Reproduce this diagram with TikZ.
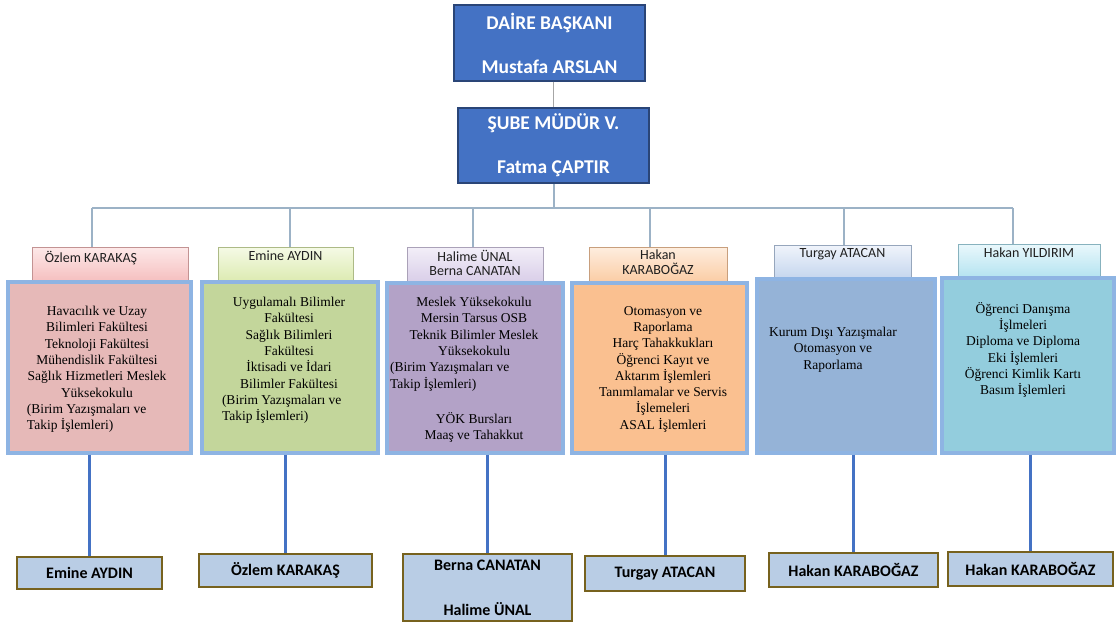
\documentclass[tikz,border=0pt]{standalone}
\usepackage{fontspec}
\setmainfont{Liberation Serif}
\newfontfamily\calibri{Carlito}
\usepackage{tikz}
\usetikzlibrary{positioning}

\definecolor{headblue}{HTML}{4472C4}
\definecolor{headedge}{HTML}{2A4577}
\definecolor{linkgray}{HTML}{A6A6A6}
\definecolor{linkbar}{HTML}{9CB2C6}
\definecolor{cardedge}{HTML}{8EB4E3}
\definecolor{nameedge}{HTML}{77621E}
\definecolor{namefill}{HTML}{B9CDE5}
% tab shades (top, bottom)
\definecolor{pinktop}{HTML}{FDE9E9}   \definecolor{pinkbot}{HTML}{F4B8B8}
\definecolor{greentop}{HTML}{F5FAE6}  \definecolor{greenbot}{HTML}{D8E8A8}
\definecolor{liltop}{HTML}{F3EFF8}    \definecolor{lilbot}{HTML}{D5C9E6}
\definecolor{peachtop}{HTML}{FEEEDF}  \definecolor{peachbot}{HTML}{FAC79C}
\definecolor{bluetop}{HTML}{F0F4FB}   \definecolor{bluebot}{HTML}{BCD0EB}
\definecolor{cyantop}{HTML}{EAF8FC}   \definecolor{cyanbot}{HTML}{A9DFEE}
% card fills
\definecolor{pinkcard}{HTML}{E6B9B8}
\definecolor{greencard}{HTML}{C3D69B}
\definecolor{lilcard}{HTML}{B3A2C7}
\definecolor{peachcard}{HTML}{FAC090}
\definecolor{bluecard}{HTML}{95B3D7}
\definecolor{cyancard}{HTML}{93CDDD}

\newcommand{\hdfont}{\calibri\bfseries\fontsize{19.5}{44}\selectfont}
\newcommand{\tbfont}{\calibri\fontsize{14}{14.5}\selectfont}
\newcommand{\crdfont}{\fontsize{13.5}{16.3}\selectfont}
\newcommand{\nmfont}{\calibri\bfseries\fontsize{16}{45}\selectfont}

\begin{document}
\begin{tikzpicture}[x=1pt, y=-1pt,
    headbox/.style={draw=headedge, line width=1.5pt, fill=headblue, text=white, font=\hdfont, align=center, minimum width=191pt, minimum height=76pt},
    tabbox/.style 2 args={top color=#1, bottom color=#2, draw=#2!80!black, line width=0.8pt, minimum height=40pt},
    tabtext/.style={anchor=north, inner sep=4pt, font=\tbfont, text=black!88, align=center},
    cardbox/.style={draw=cardedge, line width=3.5pt, minimum height=171pt},
    cardtext/.style={anchor=north, inner sep=0pt, font=\crdfont, text=black, align=center},
    namebox/.style={draw=nameedge, line width=2pt, fill=namefill, font=\nmfont, align=center, minimum height=33pt},
    graylink/.style={draw=linkgray, line width=1.5pt},
    barlink/.style={draw=linkbar, line width=2pt},
    bluelink/.style={draw=headblue, line width=3pt}
    ]
        \useasboundingbox (0,0) rectangle (1116,623);

        %Head
        \node[headbox] (daire) at (549.5,43) {DAİRE BAŞKANI\\Mustafa ARSLAN};
        \node[headbox, minimum height=75pt] (sube) at (553.5,145.5) {ŞUBE MÜDÜR V.\\Fatma ÇAPTIR};

        %Junctions on the bar
        \foreach \x [count=\i] in {92,290,473,650,844,1013}
            \coordinate (j\i) at (\x,208);

        %Tabs
        \node[tabbox={pinktop}{pinkbot}, minimum width=156pt] (tab1) at (110,267) {};
        \node[tabbox={greentop}{greenbot}, minimum width=135pt] (tab2) at (285.5,267) {};
        \node[tabbox={liltop}{lilbot}, minimum width=136pt] (tab3) at (475,267) {};
        \node[tabbox={peachtop}{peachbot}, minimum width=138pt] (tab4) at (658,267) {};
        \node[tabbox={bluetop}{bluebot}, minimum width=137pt] (tab5) at (842.5,265) {};
        \node[tabbox={cyantop}{cyanbot}, minimum width=142pt] (tab6) at (1029,264) {};

        \node[tabtext, xshift=-19pt] (tab1t) at (tab1.north) {Özlem KARAKAŞ};
        \node[tabtext] (tab2t) at (tab2.north) {Emine AYDIN};
        \node[tabtext, inner sep=3pt] (tab3t) at (tab3.north) {Halime ÜNAL\\Berna CANATAN};
        \node[tabtext, inner sep=3pt] (tab4t) at (tab4.north) {Hakan\\KARABOĞAZ};
        \node[tabtext] (tab5t) at (tab5.north) {Turgay ATACAN};
        \node[tabtext] (tab6t) at (tab6.north) {Hakan YILDIRIM};

        %Cards
        \node[cardbox, fill=pinkcard, minimum width=183pt] (card1) at (99.5,367.5) {};
        \node[cardbox, fill=greencard, minimum width=176pt] (card2) at (290,367.5) {};
        \node[cardbox, fill=lilcard, minimum width=176pt, minimum height=170pt] (card3) at (475,368) {};
        \node[cardbox, fill=peachcard, minimum width=175pt, minimum height=170pt] (card4) at (659.5,368) {};
        \node[cardbox, fill=bluecard, minimum width=178pt, minimum height=174pt] (card5) at (846,366) {};
        \node[cardbox, fill=cyancard, minimum width=172pt, minimum height=175pt] (card6) at (1028,365.5) {};

        \node[cardtext] (card1t) at (97,306) {Havacılık ve Uzay\\Bilimleri Fakültesi\\Teknoloji Fakültesi\\Mühendislik Fakültesi\\Sağlık Hizmetleri Meslek\\Yüksekokulu\\\makebox[140pt][l]{(Birim Yazışmaları ve}\\\makebox[140pt][l]{Takip İşlemleri)}};
        \node[cardtext] (card2t) at (289,297) {Uygulamalı Bilimler\\Fakültesi\\Sağlık Bilimleri\\Fakültesi\\İktisadi ve İdari\\Bilimler Fakültesi\\\makebox[134pt][l]{(Birim Yazışmaları ve}\\\makebox[134pt][l]{Takip İşlemleri)}};
        \node[cardtext] (card3t) at (474,297) {Meslek Yüksekokulu\\Mersin Tarsus OSB\\Teknik Bilimler Meslek\\Yüksekokulu\\\makebox[168pt][l]{(Birim Yazışmaları ve}\\\makebox[168pt][l]{Takip İşlemleri)}\\[19pt]YÖK Bursları\\Maaş ve Tahakkut};
        \node[cardtext] (card4t) at (663,306) {Otomasyon ve\\Raporlama\\Harç Tahakkukları\\Öğrenci Kayıt ve\\Aktarım İşlemleri\\Tanımlamalar ve Servis\\İşlemeleri\\ASAL İşlemleri};
        \node[cardtext] (card5t) at (833,327) {Kurum Dışı Yazışmalar\\Otomasyon ve\\Raporlama};
        \node[cardtext] (card6t) at (1023,302) {Öğrenci Danışma\\İşlmeleri\\Diploma ve Diploma\\Eki İşlemleri\\Öğrenci Kimlik Kartı\\Basım İşlemleri};

        %Names
        \node[namebox, minimum width=145pt, minimum height=32pt] (nm1) at (89.5,573) {Emine AYDIN};
        \node[namebox, minimum width=173pt] (nm2) at (285.5,570.5) {Özlem KARAKAŞ};
        \node[namebox, minimum width=169pt, minimum height=67pt] (nm3) at (487.5,587.5) {Berna CANATAN\\Halime ÜNAL};
        \node[namebox, minimum width=160pt, minimum height=35pt] (nm4) at (665,573.5) {Turgay ATACAN};
        \node[namebox, minimum width=169pt, minimum height=34pt] (nm5) at (853.5,570) {Hakan KARABOĞAZ};
        \node[namebox, minimum width=165pt, minimum height=34pt] (nm6) at (1030.5,569) {Hakan KARABOĞAZ};

        %Lines
        \draw[graylink] (sube.north |- daire.south) -- (sube.north);
        \draw[barlink] (sube.south) -- (sube.south |- j1);
        \draw[barlink] (j1) -- (j6);
        \foreach \i in {1,...,6}
            \draw[barlink] (j\i) -- (j\i |- tab\i.north);
        \foreach \i in {1,...,6}
            \draw[bluelink] (nm\i.north |- card\i.south) -- (nm\i.north);
    \end{tikzpicture}
\end{document}
